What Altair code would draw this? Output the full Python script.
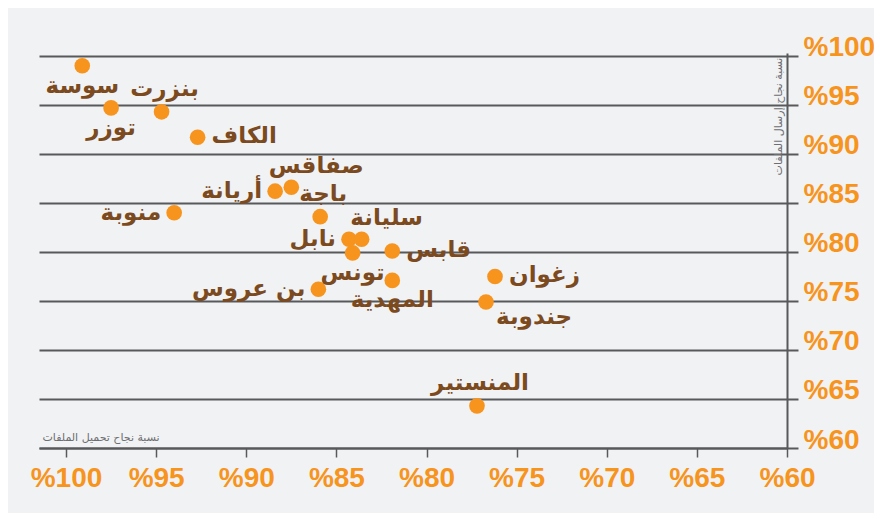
import altair as alt
import pandas as pd

governorates = ["سوسة", "توزر", "بنزرت", "الكاف", "أريانة", "صفاقس", "منوبة", "باجة",
                "نابل", "سليانة", "تونس", "قابس", "المهدية", "بن عروس", "زغوان", "جندوبة", "المنستير"]
upload_rate = [99.1, 97.5, 94.7, 92.7, 88.4, 87.5, 94.0, 85.9,
               84.3, 83.6, 84.1, 81.9, 81.9, 86.0, 76.2, 76.7, 77.2]
send_rate = [99.0, 94.7, 94.3, 91.7, 86.2, 86.6, 84.0, 83.6,
             81.3, 81.3, 79.9, 80.1, 77.1, 76.2, 77.5, 74.9, 64.3]
label_side = ["S", "S", "N", "E", "W", "NE", "W", "N",
              "W", "NE", "S", "E", "S", "W", "E", "SE", "N"]
tick_values = [60, 65, 70, 75, 80, 85, 90, 95, 100]

x_title = "نسبة نجاح تحميل الملفات"
y_title = "نسبة نجاح إرسال الملفات"

df = pd.DataFrame({"name": governorates, "upload": upload_rate,
                   "send": send_rate, "side": label_side})

ORANGE = "#f7941d"
BROWN = "#7b4a1e"
GREY = "#58595b"

x_enc = alt.X("upload:Q",
              scale=alt.Scale(domain=[101.5, 60], nice=False, zero=False),
              axis=alt.Axis(values=tick_values, labelExpr="'%' + datum.value",
                            title=x_title, titleX=3, titleY=-8, titleAlign="left",
                            titleBaseline="alphabetic", titleAngle=0,
                            titleFont="DejaVu Sans", titleFontSize=11, titleFontWeight="normal",
                            titleColor="#6d6e71",
                            grid=False, domainColor=GREY, domainWidth=2,
                            tickColor=GREY, tickWidth=1.5, tickSize=9,
                            labelFont="Liberation Sans", labelFontSize=28,
                            labelFontWeight="bold", labelColor=ORANGE,
                            labelBaseline="alphabetic", labelPadding=29,
                            labelFlush=False, labelOverlap=False))
y_enc = alt.Y("send:Q",
              scale=alt.Scale(domain=[60, 100.3], nice=False, zero=False),
              axis=alt.Axis(orient="right", values=tick_values,
                            labelExpr="'%' + datum.value",
                            title=y_title, titleX=-9, titleY=63, titleAngle=270,
                            titleAlign="center", titleBaseline="middle",
                            titleFont="DejaVu Sans", titleFontSize=11,
                            titleFontWeight="normal", titleColor="#6d6e71",
                            grid=True, gridColor=GREY, gridWidth=2,
                            domainColor=GREY, domainWidth=2,
                            tickColor=GREY, tickWidth=2, tickSize=11,
                            labelFont="Liberation Sans", labelFontSize=28,
                            labelFontWeight="bold", labelColor=ORANGE,
                            labelBaseline="alphabetic", labelAlign="left",
                            labelPadding=5, labelOffset=0,
                            labelFlush=False, labelOverlap=False))

base = alt.Chart(df).encode(x=x_enc, y=y_enc)

points = base.mark_circle(size=245, color=ORANGE, opacity=1)

sides = {
    "S": dict(align="center", dx=0, dy=20),
    "N": dict(align="center", dx=3, dy=-23),
    "E": dict(align="left", dx=14, dy=-1),
    "W": dict(align="right", dx=-13, dy=0),
    "NE": dict(align="center", dx=25, dy=-21),
    "SE": dict(align="left", dx=10, dy=15),
}

texts = []
for side, opts in sides.items():
    t = base.transform_filter(alt.datum.side == side).mark_text(
        font="DejaVu Sans", fontSize=23, fontWeight="bold", color=BROWN,
        baseline="middle", **opts
    ).encode(text="name:N")
    texts.append(t)

chart = alt.layer(points, *texts).properties(
    width=748, height=395,
    padding={"left": 31, "top": 45, "right": 87, "bottom": 65},
    autosize="none",
    background="#f1f2f4",
).configure_view(stroke=None)

chart.save("out.html", embed_options={"renderer": "svg", "actions": False})
